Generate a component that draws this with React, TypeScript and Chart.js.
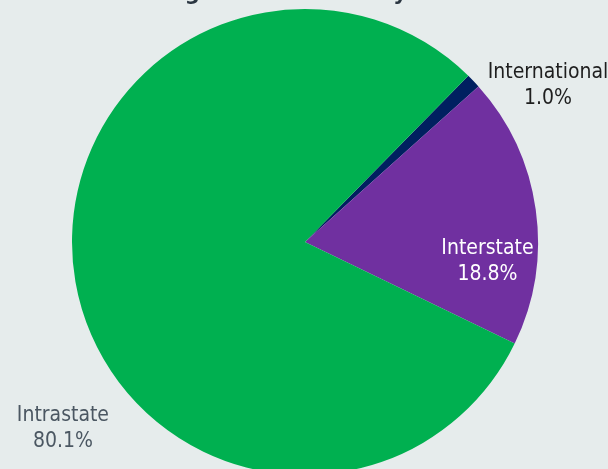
import React, { useEffect, useRef } from "react";
import { Chart, registerables } from "chart.js";

Chart.register(...registerables);

const categories = ["International", "Interstate", "Intrastate"];
const shares = [1.0, 18.8, 80.1];
const shareLabels = ["1.0%", "18.8%", "80.1%"];
const sliceColors = ["#002060", "#7030a0", "#00b050"];
const labelColors = ["#1e1e1e", "#ffffff", "#4b5762"];
// label anchor (baseline midpoint) relative to pie radius (x, y factors from centre)
const labelAnchors = [
  [1.043, -0.648],
  [0.783, 0.109],
  [-1.039, 0.824],
];
const titleText = "Trucking Volume Share by Distance";

const labelPlugin = {
  id: "sliceLabels",
  afterDatasetsDraw(chart: any) {
    const ctx = chart.ctx;
    const meta = chart.getDatasetMeta(0);
    ctx.save();
    ctx.font = "21px 'DejaVu Sans Condensed', 'DejaVu Sans', sans-serif";
    ctx.textAlign = "center";
    ctx.textBaseline = "alphabetic";
    meta.data.forEach((arc: any, i: number) => {
      const r = arc.outerRadius;
      const cx = arc.x + r * labelAnchors[i][0];
      const cy = arc.y + r * labelAnchors[i][1];
      ctx.fillStyle = labelColors[i];
      ctx.fillText(categories[i], cx, cy - 13);
      ctx.fillText(shareLabels[i], cx, cy + 13);
    });
    // title (mostly above visible area)
    ctx.font = "bold 21px 'DejaVu Sans', sans-serif";
    ctx.fillStyle = "#2b3641";
    ctx.fillText(titleText, chart.width / 2 + 4, 0);
    ctx.restore();
  },
};

export default function App() {
  const ref = useRef<HTMLCanvasElement>(null);
  useEffect(() => {
    document.body.style.margin = "0";
    const chart = new Chart(ref.current!, {
      type: "pie",
      data: {
        labels: categories,
        datasets: [
          {
            data: shares,
            backgroundColor: sliceColors,
            borderWidth: 0,
          },
        ],
      },
      options: {
        animation: false,
        responsive: false,
        rotation: 44.5,
        layout: { padding: { top: 9, left: 72, right: 70, bottom: 0 } },
        plugins: {
          legend: { display: false },
          tooltip: { enabled: false },
        },
      },
      plugins: [labelPlugin],
    });
    return () => chart.destroy();
  }, []);
  return (
    <div
      style={{
        position: "fixed",
        left: 0,
        top: 0,
        width: 608,
        height: 469,
        overflow: "hidden",
        background: "#e6ecec",
      }}
    >
      <canvas ref={ref} width={608} height={475} />
    </div>
  );
}
